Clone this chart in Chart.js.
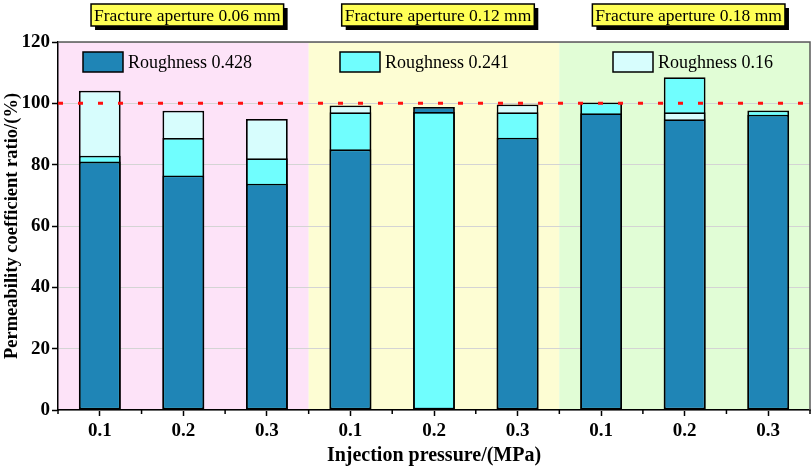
<!DOCTYPE html>
<html>
<head>
<meta charset="utf-8">
<script src="https://cdn.jsdelivr.net/npm/chart.js@4.4.1/dist/chart.umd.min.js"></script>
<style>
  html, body { margin: 0; padding: 0; background: #fff; }
  #wrap { width: 812px; height: 470px; }
</style>
</head>
<body>
<div id="wrap"><canvas id="chart" width="812" height="470"></canvas></div>
<script>
// --- data ---
const pressures = ['0.1', '0.2', '0.3', '0.1', '0.2', '0.3', '0.1', '0.2', '0.3'];
const apertures = ['Fracture aperture 0.06 mm', 'Fracture aperture 0.12 mm', 'Fracture aperture 0.18 mm'];
const seriesNames = ['Roughness 0.428', 'Roughness 0.241', 'Roughness 0.16'];
const rough428 = [81.0, 76.5, 73.8, 85.0, 98.8, 88.8, 96.8, 94.8, 96.3];
const rough241 = [82.9, 88.7, 82.1, 97.1, 97.2, 97.1, 100.3, 108.5, 97.7];
const rough016 = [104.1, 97.6, 94.9, 99.3, null, 99.6, null, 97.1, null];
const yTicks = [0, 20, 40, 60, 80, 100, 120];
const referenceLevel = 100;

const serif = "'Liberation Serif', 'Times New Roman', serif";
const barColors = ['#1f85b6', '#70fefe', '#d7fdfd'];
const zoneColors = ['#fde3f8', '#fdfdd3', '#e1fdd6'];

// --- plugins ---
// tinted backgrounds, one per aperture group
const zones = {
    id: 'zones',
    beforeDraw(chart) {
        const { ctx, chartArea: a } = chart;
        const step = (a.right - a.left) / pressures.length;
        ctx.save();
        apertures.forEach((_, g) => {
            ctx.fillStyle = zoneColors[g];
            ctx.fillRect(a.left + g * 3 * step, a.top, 3 * step, a.bottom - a.top);
        });
        ctx.restore();
    }
};

// bars overlap; the tallest one at each position goes to the back
const overlap = {
    id: 'overlap',
    beforeDatasetsDraw(chart) {
        const { ctx, chartArea: a } = chart;
        const items = [];
        chart.data.datasets.forEach((ds, di) => {
            chart.getDatasetMeta(di).data.forEach((el, i) => {
                if (ds.data[i] != null) items.push({ el, v: ds.data[i] });
            });
        });
        items.sort((p, q) => q.v - p.v);
        ctx.save();
        ctx.beginPath();
        ctx.rect(a.left, a.top - 2, a.right - a.left, a.bottom - a.top + 2);
        ctx.clip();
        items.forEach(it => it.el.draw(ctx));
        ctx.restore();
        return false;
    }
};

const extras = {
    id: 'extras',
    afterDraw(chart) {
        const { ctx, chartArea: a, scales: { x, y } } = chart;
        ctx.save();

        // frame on top / right
        ctx.strokeStyle = '#5a5a5a';
        ctx.lineWidth = 1.5;
        ctx.beginPath();
        ctx.moveTo(a.left, a.top);
        ctx.lineTo(a.right, a.top);
        ctx.lineTo(a.right, a.bottom);
        ctx.stroke();

        // minor ticks at category boundaries
        const step = (a.right - a.left) / pressures.length;
        ctx.strokeStyle = '#000';
        ctx.lineWidth = 1.5;
        for (let i = 0; i <= pressures.length; i++) {
            const px = a.left + i * step;
            ctx.beginPath();
            ctx.moveTo(px, a.bottom);
            ctx.lineTo(px, a.bottom + 4);
            ctx.stroke();
        }

        // dotted reference line
        const ry = y.getPixelForValue(referenceLevel);
        ctx.strokeStyle = '#ff1010';
        ctx.lineWidth = 3;
        ctx.setLineDash([5, 15]);
        ctx.beginPath();
        ctx.moveTo(a.left, ry);
        ctx.lineTo(a.right, ry);
        ctx.stroke();
        ctx.setLineDash([]);

        // legend inside the plot
        const legendX = [25, 282, 555];
        ctx.font = '18px ' + serif;
        ctx.textBaseline = 'middle';
        ctx.textAlign = 'left';
        chart.data.datasets.forEach((ds, i) => {
            const bx = a.left + legendX[i], by = a.top + 10;
            ctx.fillStyle = ds.backgroundColor;
            ctx.fillRect(bx, by, 40, 20);
            ctx.strokeStyle = '#000';
            ctx.lineWidth = 1.5;
            ctx.strokeRect(bx, by, 40, 20);
            ctx.fillStyle = '#000';
            ctx.fillText(ds.label, bx + 45, by + 11);
        });

        // aperture labels above the plot
        ctx.font = '17.5px ' + serif;
        ctx.textAlign = 'center';
        apertures.forEach((txt, g) => {
            const cx = x.getPixelForValue(3 * g + 1) + 4;
            const w = ctx.measureText(txt).width + 6, h = 22;
            const bx = cx - w / 2, by = 4;
            ctx.fillStyle = '#000';
            ctx.fillRect(bx + 4, by + 4, w, h);
            ctx.fillStyle = '#ffff55';
            ctx.fillRect(bx, by, w, h);
            ctx.strokeStyle = '#000';
            ctx.lineWidth = 1.5;
            ctx.strokeRect(bx, by, w, h);
            ctx.fillStyle = '#000';
            ctx.fillText(txt, cx, by + h / 2 + 1);
        });
        ctx.restore();
    }
};

// --- chart ---
const barStyle = {
    borderColor: '#000',
    borderWidth: 1.8,
    borderSkipped: false,
    grouped: false,
    barPercentage: 0.5,
    categoryPercentage: 1.0
};

new Chart(document.getElementById('chart'), {
    type: 'bar',
    data: {
        labels: pressures,
        datasets: [
            { label: seriesNames[0], data: rough428, backgroundColor: barColors[0], ...barStyle },
            { label: seriesNames[1], data: rough241, backgroundColor: barColors[1], ...barStyle },
            { label: seriesNames[2], data: rough016, backgroundColor: barColors[2], ...barStyle }
        ]
    },
    options: {
        responsive: false,
        devicePixelRatio: 1,
        animation: false,
        layout: { padding: { top: 42, right: 2, left: 0, bottom: 0 } },
        plugins: { legend: { display: false }, tooltip: { enabled: false } },
        scales: {
            x: {
                offset: true,
                grid: { drawOnChartArea: false, offset: false, tickLength: 6, tickColor: '#000', tickWidth: 1.5 },
                border: { color: '#000', width: 1.5 },
                ticks: { color: '#000', padding: 4, font: { family: serif, size: 19, weight: 'bold' } },
                title: {
                    display: true, text: 'Injection pressure/(MPa)', color: '#000',
                    font: { family: serif, size: 20, weight: 'bold' }, padding: { top: 0, bottom: 2 }
                },
                afterFit(scale) { scale.height = 60; }
            },
            y: {
                min: 0, max: 120,
                afterBuildTicks(scale) { scale.ticks = yTicks.map(v => ({ value: v })); },
                grid: { color: '#d4d4d4', lineWidth: 1, tickLength: 6, tickColor: '#000', tickWidth: 1.5 },
                border: { color: '#000', width: 1.5 },
                ticks: { color: '#000', padding: 2, font: { family: serif, size: 19, weight: 'bold' } },
                title: {
                    display: true, text: 'Permeability coefficient ratio/(%)', color: '#000',
                    font: { family: serif, size: 18.5, weight: 'bold' }, padding: { top: 1, bottom: 0 }
                },
                afterFit(scale) { scale.width = 58; }
            }
        }
    },
    plugins: [zones, overlap, extras]
});
</script>
</body>
</html>
